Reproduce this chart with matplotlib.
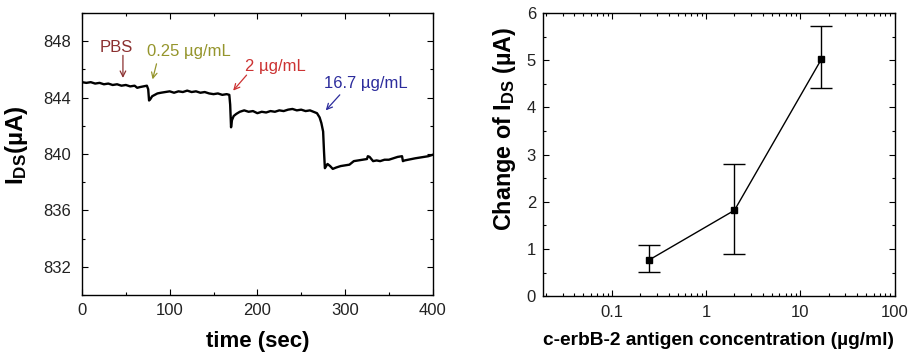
import matplotlib
matplotlib.use("Agg")
import matplotlib.pyplot as plt
from matplotlib.ticker import MultipleLocator, LogLocator, NullFormatter, FixedLocator, FixedFormatter

plt.rcParams['font.family'] = ['Liberation Sans', 'DejaVu Sans']
plt.rcParams['mathtext.fontset'] = 'custom'
plt.rcParams['mathtext.rm'] = 'Liberation Sans'
plt.rcParams['mathtext.bf'] = 'Liberation Sans:bold'

# ---- left panel: real-time I_DS trace ----
time_s = [0, 5, 10, 15, 20, 25, 30, 35, 40, 45,
          50, 55, 60, 63, 66, 70, 74, 75.5, 76.5, 78,
          80, 83, 86, 90, 95, 100, 105, 110, 115, 120,
          125, 130, 135, 140, 145, 150, 155, 160, 165, 168,
          169, 170, 171, 173, 176, 180, 185, 190, 195, 200,
          205, 210, 215, 220, 225, 230, 235, 240, 245, 250,
          255, 260, 264, 268, 271, 273, 275, 276, 277, 278,
          280, 283, 286, 290, 295, 300, 305, 310, 315, 320,
          325, 326, 328, 332, 336, 340, 345, 350, 355, 360,
          365, 366, 368, 372, 376, 380, 385, 390, 395, 400]
ids_uA = [845.1, 845.05, 845.1, 845.0, 845.05, 844.95, 845.0, 844.9, 844.95, 844.85,
          844.9, 844.8, 844.85, 844.7, 844.75, 844.8, 844.85, 844.6, 843.8, 843.9,
          844.1, 844.2, 844.3, 844.35, 844.4, 844.45, 844.35, 844.45, 844.4, 844.5,
          844.4, 844.45, 844.35, 844.4, 844.3, 844.25, 844.3, 844.2, 844.25, 844.2,
          843.5, 841.9, 842.4, 842.7, 842.85, 843.0, 843.1, 843.0, 843.05, 842.9,
          843.0, 842.95, 843.05, 843.0, 843.1, 843.05, 843.15, 843.2, 843.1, 843.15,
          843.05, 843.1, 843.0, 842.9, 842.6, 842.2, 841.6, 840.2, 839.0, 839.1,
          839.3, 839.15, 838.95, 839.05, 839.15, 839.2, 839.25, 839.5, 839.55, 839.6,
          839.65, 839.85, 839.8, 839.5, 839.55, 839.5, 839.6, 839.6, 839.7, 839.8,
          839.85, 839.5, 839.55, 839.6, 839.65, 839.7, 839.75, 839.8, 839.85, 839.95]

annot_labels = ["PBS", "0.25 \u00b5g/mL", "2 \u00b5g/mL", "16.7 \u00b5g/mL"]
annot_colors = ["#8b3030", "#95952c", "#cc3333", "#2c2c9c"]
annot_text_xy = [(39, 847.55), (74, 847.25), (186, 846.2), (276, 845.0)]
annot_tail = [(46.7, 847.0), (85, 846.4), (187.7, 845.6), (294, 844.2)]
annot_head = [(46.7, 845.4), (80.5, 845.3), (172.4, 844.5), (278, 843.1)]
annot_ha = ["center", "left", "left", "left"]

# ---- right panel: calibration ----
conc = [0.25, 2, 16.7]
delta_ids = [0.77, 1.82, 5.02]
err_low = [0.52, 0.89, 4.41]
err_high = [1.08, 2.80, 5.72]

fig = plt.figure(figsize=(9.11, 3.53), dpi=100)
ax1 = fig.add_axes([0.090, 0.164, 0.385, 0.799])
ax2 = fig.add_axes([0.596, 0.161, 0.386, 0.802])

ax1.plot(time_s, ids_uA, color="black", lw=1.7)
ax1.set_xlim(0, 400)
ax1.set_ylim(830, 850)
ax1.xaxis.set_major_locator(MultipleLocator(100))
ax1.xaxis.set_minor_locator(MultipleLocator(50))
ax1.yaxis.set_major_locator(FixedLocator([832, 836, 840, 844, 848]))
ax1.yaxis.set_minor_locator(MultipleLocator(2))
ax1.set_xlabel("time (sec)", fontsize=16, fontweight="bold", labelpad=9)
ax1.set_ylabel(r"$\mathbf{I_{DS}}$(" + "\u00b5A)", fontsize=17.5, fontweight="bold")
ax1.yaxis.set_label_coords(-0.148, 0.53)

for lab, col, txy, tail, head, ha in zip(annot_labels, annot_colors, annot_text_xy,
                                          annot_tail, annot_head, annot_ha):
    ax1.text(txy[0], txy[1], lab, color=col, fontsize=12, ha=ha, va="center")
    ax1.annotate("", xy=head, xytext=tail,
                 arrowprops=dict(arrowstyle="->", color=col, lw=0.9, shrinkA=0, shrinkB=0))

ax2.errorbar(conc, delta_ids,
             yerr=[[d - lo for d, lo in zip(delta_ids, err_low)],
                   [hi - d for d, hi in zip(delta_ids, err_high)]],
             color="black", lw=1.0, marker="s", markersize=4.5,
             capsize=8, capthick=1.0, elinewidth=1.0)
ax2.set_xscale("log")
ax2.set_xlim(0.0186, 100)
ax2.set_ylim(0, 6)
ax2.xaxis.set_minor_locator(LogLocator(base=10, subs=range(2, 10), numticks=20))
ax2.xaxis.set_minor_formatter(NullFormatter())
ax2.xaxis.set_major_locator(FixedLocator([0.1, 1, 10, 100]))
ax2.xaxis.set_major_formatter(FixedFormatter(["0.1", "1", "10", "100"]))
ax2.yaxis.set_major_locator(MultipleLocator(1))
ax2.yaxis.set_minor_locator(MultipleLocator(0.5))
ax2.set_xlabel("c-erbB-2 antigen concentration (\u00b5g/ml)", fontsize=13.8, fontweight="bold", labelpad=9)
ax2.set_ylabel("Change of " + r"$\mathbf{I_{DS}}$" + " (\u00b5A)", fontsize=16.8, fontweight="bold")
ax2.yaxis.set_label_coords(-0.072, 0.59)

for ax in (ax1, ax2):
    ax.tick_params(which="both", direction="in", top=True, right=True, labelsize=12,
                   width=0.8, labelcolor="#222222")
    ax.tick_params(which="major", length=4)
    ax.tick_params(which="minor", length=2.5)
    for s in ax.spines.values():
        s.set_linewidth(1.0)
ax1.tick_params(axis="x", pad=6)
ax1.tick_params(axis="y", pad=8)
ax2.tick_params(axis="x", pad=6)
ax2.tick_params(axis="y", pad=5)

fig.savefig("out.png", dpi=100)
